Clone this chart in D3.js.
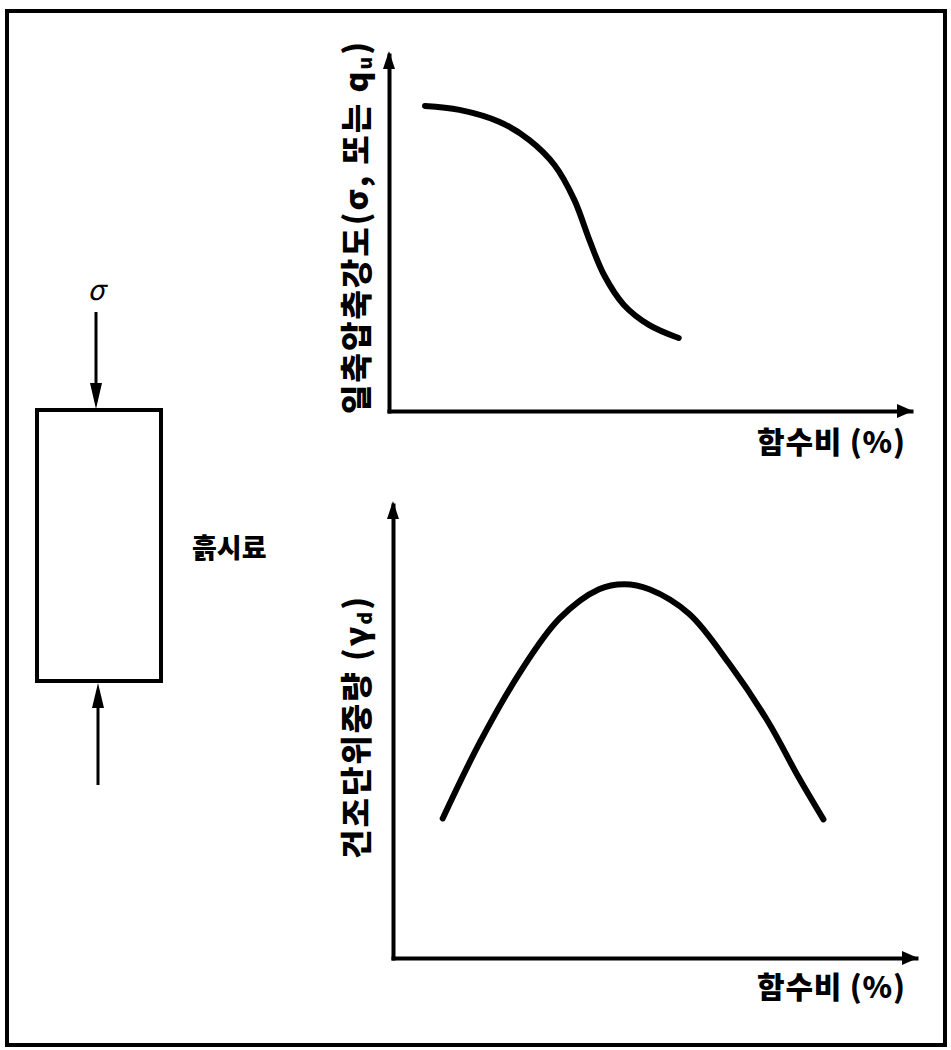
<!DOCTYPE html>
<html><head><meta charset="utf-8">
<script src="https://cdn.jsdelivr.net/npm/d3@7"></script>
<style>
body{margin:0;background:#fff;}
text{font-family:"Noto Sans CJK KR","Noto Sans",sans-serif;fill:#000;}
</style></head>
<body><svg id="c" width="951" height="1050"></svg>
<script>
// Data (arbitrary units, 0-100)
const strengthWater = [6.9, 13.5, 21.2, 26.9, 31.7, 35.5, 38.4, 41.2, 45.0, 49.8, 55.5];
const strengthValue = [85.7, 84.6, 81.2, 76.1, 69.1, 59.3, 48.0, 38.2, 29.8, 24.2, 20.5];
const densityWater  = [9.5, 16.6, 24.2, 31.8, 39.4, 44.2, 49.0, 56.6, 64.2, 71.8, 77.5, 82.3];
const densityValue  = [30.8, 47.6, 62.9, 74.9, 81.4, 82.5, 81.4, 76.0, 65.1, 52.0, 40.0, 30.6];
const xLabel = "함수비 (%)";
const topYLabel = ["일축압축강도(σ, 또는 q", "u", ")"];
const botYLabel = ["건조단위중량 (γ", "d", ")"];
const specimenLabel = "흙시료";

const svg = d3.select("#c");
svg.append("rect").attr("x",7).attr("y",11).attr("width",938).attr("height",1034)
  .attr("fill","none").attr("stroke","#000").attr("stroke-width",4);

function panel(cfg, xs, ys){
  const x = d3.scaleLinear().domain([0,100]).range([cfg.x0, cfg.x1]);
  const y = d3.scaleLinear().domain([0,100]).range([cfg.y0, cfg.y1]);
  const g = svg.append("g");
  g.append("g").attr("transform",`translate(0,${cfg.y0})`)
    .call(d3.axisBottom(x).tickValues([]).tickSizeOuter(0));
  g.append("g").attr("transform",`translate(${cfg.x0},0)`)
    .call(d3.axisLeft(y).tickValues([]).tickSizeOuter(0));
  g.selectAll(".domain").attr("stroke","#000").attr("stroke-width",4).attr("stroke-linecap","square");
  const xe = x(100), yt = y(100);
  g.append("path").attr("d",`M${xe+2},${cfg.y0} L${xe-14},${cfg.y0-7} L${xe-14},${cfg.y0+7}Z`).attr("fill","#000");
  g.append("path").attr("d",`M${cfg.x0},${yt-4} L${cfg.x0-6},${yt+14} L${cfg.x0+6},${yt+14}Z`).attr("fill","#000");
  const pts = xs.map((v,i)=>[v, ys[i]]);
  g.append("path").datum(pts)
    .attr("d", d3.line().x(d=>x(d[0])).y(d=>y(d[1])).curve(d3.curveCatmullRom.alpha(0.5)))
    .attr("fill","none").attr("stroke","#000").attr("stroke-width",6).attr("stroke-linecap","round");
  g.append("text").attr("x", cfg.xlx).attr("y", cfg.xly).attr("font-size",30).attr("font-weight",900)
    .attr("textLength",148).attr("lengthAdjust","spacing")
    .text(xLabel);
  const t = g.append("text").attr("transform",`translate(${cfg.ylx},${cfg.yly}) rotate(-90)`)
    .attr("text-anchor","middle").attr("font-size",cfg.yfs).attr("font-weight",900)
    .attr("textLength",cfg.ylen).attr("lengthAdjust","spacing");
  t.append("tspan").text(cfg.ylab[0]);
  t.append("tspan").attr("font-size",cfg.yfs*0.6).attr("dy",4).text(cfg.ylab[1]);
  t.append("tspan").attr("dy",-4).text(cfg.ylab[2]);
}

panel({x0:389,x1:911,y0:411,y1:55,xlx:757,xly:453,ylx:368,yly:228,yfs:32,ylen:372,ylab:topYLabel}, strengthWater, strengthValue);
panel({x0:393,x1:916,y0:958,y1:505,xlx:757,xly:998,ylx:368,yly:728,yfs:32,ylen:262,ylab:botYLabel}, densityWater, densityValue);

// specimen
svg.append("rect").attr("x",37).attr("y",410).attr("width",124).attr("height",271)
  .attr("fill","none").attr("stroke","#000").attr("stroke-width",4);
svg.append("line").attr("x1",96).attr("y1",312).attr("x2",96).attr("y2",395).attr("stroke","#000").attr("stroke-width",3);
svg.append("path").attr("d","M96,409 L90,383 L102,383Z").attr("fill","#000");
svg.append("line").attr("x1",98).attr("y1",785).attr("x2",98).attr("y2",698).attr("stroke","#000").attr("stroke-width",3);
svg.append("path").attr("d","M98,683 L92,708 L104,708Z").attr("fill","#000");
svg.append("text").attr("x",96).attr("y",300).attr("text-anchor","middle").attr("font-size",28)
  .attr("font-style","italic").attr("font-family","DejaVu Serif").text("σ");
svg.append("text").attr("x",192).attr("y",558).attr("font-size",27).attr("font-weight",900)
  .text(specimenLabel);
</script></body></html>
